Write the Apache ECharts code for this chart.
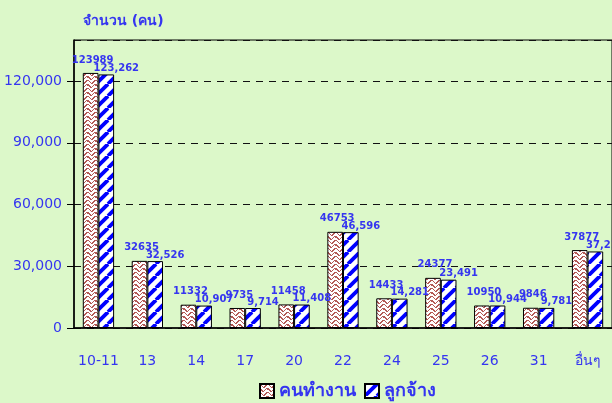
<!DOCTYPE html>
<html><head><meta charset="utf-8">
<script src="https://cdn.jsdelivr.net/npm/echarts@6/dist/echarts.min.js"></script>
<style>html,body{margin:0;padding:0;background:#dcf8c9;}#c{width:612px;height:403px;}</style>
</head><body><div id="c"></div>
<script>
const categories = ['10-11','13','14','17','20','22','24','25','26','31','อื่นๆ'];
const workers = [123989, 32635, 11332, 9735, 11458, 46753, 14433, 24377, 10950, 9846, 37877];
const employees = [123262, 32526, 10907, 9714, 11408, 46596, 14281, 23491, 10944, 9781, 37210];
const seriesNames = ['คนทำงาน','ลูกจ้าง'];
const yTicks = [0, 30000, 60000, 90000, 120000];
const yTitle = 'จำนวน (คน)';

function stripeTile(){
  const s=12, c=document.createElement('canvas'); c.width=s; c.height=s;
  const g=c.getContext('2d'); g.fillStyle='#ffffff'; g.fillRect(0,0,s,s);
  g.strokeStyle='#0000ff'; g.lineWidth=3.8;
  [-s,0,s].forEach(dx=>{g.beginPath();g.moveTo(dx,s);g.lineTo(dx+s,0);g.stroke();});
  return c;
}
function weaveTile(){
  const s=8, c=document.createElement('canvas'); c.width=s; c.height=s;
  const g=c.getContext('2d'); g.fillStyle='#ffffff'; g.fillRect(0,0,s,s);
  g.fillStyle='#b45a56';
  const px=[
    '10000011',
    '01000110',
    '00101100',
    '00011000',
    '10000011',
    '11000101',
    '01101000',
    '00110000'];
  for(let y=0;y<s;y++)for(let x=0;x<s;x++)if(px[y][x]==='1')g.fillRect(x,y,1,1);
  return c;
}
const blue='#3535f0';
const chart=echarts.init(document.getElementById('c'));
chart.setOption({
  backgroundColor:'#dcf8c9',
  animation:false,
  title:{text:yTitle,left:78,top:9,textStyle:{color:blue,fontSize:14,fontWeight:'bold',fontFamily:'DejaVu Sans'}},
  grid:{left:74,right:-1,top:40,bottom:75,show:true,borderColor:'#000',borderWidth:1,backgroundColor:'transparent'},
  legend:{bottom:-2,left:254,itemWidth:14,itemHeight:14,icon:'rect',itemGap:8,
    textStyle:{color:blue,fontSize:18,fontWeight:'bold',fontFamily:'DejaVu Sans'}},
  xAxis:{type:'category',data:categories,
    axisLine:{lineStyle:{color:'#000',width:1.5}},
    axisTick:{length:5,lineStyle:{color:'#000'}},
    axisLabel:{color:blue,fontSize:14,margin:26,interval:0,fontFamily:'DejaVu Sans'}},
  yAxis:{type:'value',min:0,max:140000,interval:30000,
    axisLine:{show:true,lineStyle:{color:'#000',width:1.5}},
    axisTick:{show:true,length:7,lineStyle:{color:'#000'}},
    axisLabel:{color:blue,fontSize:14,margin:12,fontFamily:'DejaVu Sans',showMaxLabel:false,
      formatter:v=>yTicks.includes(v)?v.toLocaleString('en-US'):''},
    splitLine:{show:true,lineStyle:{color:'#111',type:[7,6],width:1}}},
  series:[
    {name:seriesNames[0],type:'bar',data:workers,barGap:'0%',barCategoryGap:'36%',
     itemStyle:{color:{image:weaveTile(),repeat:'repeat'},borderColor:'#000',borderWidth:1},
     label:{show:true,position:'top',offset:[2,-3],color:blue,fontSize:10,fontWeight:'bold',fontFamily:'DejaVu Sans',
       formatter:p=>String(p.value)}},
    {name:seriesNames[1],type:'bar',data:employees,
     itemStyle:{color:{image:stripeTile(),repeat:'repeat'},borderColor:'#000',borderWidth:1},
     label:{show:true,position:'top',offset:[10,4],color:blue,fontSize:10,fontWeight:'bold',fontFamily:'DejaVu Sans',
       formatter:p=>p.value.toLocaleString('en-US')}}
  ]
});
</script></body></html>
